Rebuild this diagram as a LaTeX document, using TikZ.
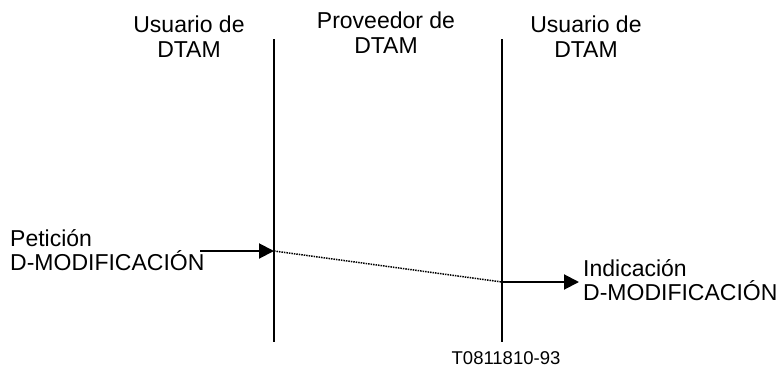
\documentclass[tikz,border=0pt]{standalone}
\usepackage{fontspec}
\setmainfont{Liberation Sans}
\usetikzlibrary{arrows.meta}
\begin{document}
\begin{tikzpicture}[x=1pt,y=-1pt,
  lbl/.style={inner sep=0pt,font=\fontsize{23}{24}\selectfont},
  hdr/.style={inner sep=0pt,align=center,font=\fontsize{23}{25.5}\selectfont},
  life/.style={line width=2pt},
  msg/.style={line width=2pt,-{Triangle[length=15pt,width=15pt]}},
  prov/.style={line width=1.5pt,densely dotted}]
\useasboundingbox (0,0) rectangle (779,367);
\node[hdr,anchor=base] (h1) at (189,57.5) {Usuario de\\DTAM};
\node[hdr,anchor=base] (h2) at (386,53.5) {Proveedor de\\DTAM};
\node[hdr,anchor=base] (h3) at (586,57.5) {Usuario de\\DTAM};
\coordinate (l1t) at (274,39);
\coordinate (l1b) at (274,342);
\coordinate (l2t) at (502,39);
\coordinate (l2b) at (502,342);
\draw[life] (l1t) -- (l1b);
\draw[life] (l2t) -- (l2b);
\node[lbl,anchor=base west] (p1) at (10,246) {Petición};
\node[lbl,anchor=base west] (p2) at (10,270) {D-MODIFICACIÓN};
\node[lbl,anchor=base west] (i1) at (583,276) {Indicación};
\node[lbl,anchor=base west] (i2) at (583,300) {D-MODIFICACIÓN};
\coordinate (a0) at (200,251);
\coordinate (a1) at (274,251);
\coordinate (b0) at (502,282);
\coordinate (b1) at (579,282);
\draw[msg] (a0) -- (a1);
\draw[prov] (a1) -- (b0);
\draw[msg] (b0) -- (b1);
\node[inner sep=0pt,anchor=base,font=\fontsize{18.5}{20}\selectfont] (ref) at (506,364) {T0811810-93};
\end{tikzpicture}
\end{document}
